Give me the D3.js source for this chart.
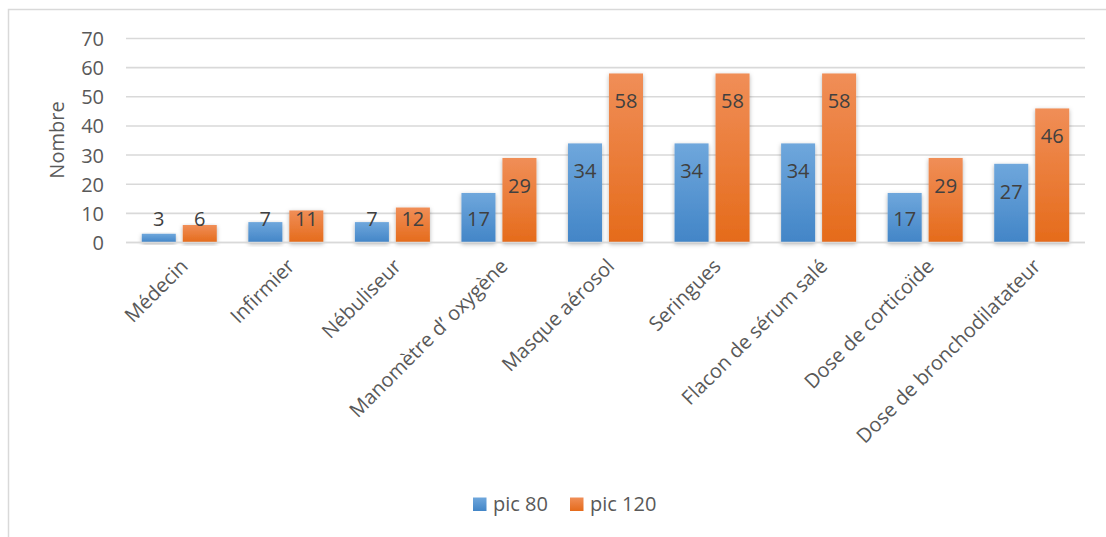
<!DOCTYPE html>
<html><head><meta charset="utf-8">
<script src="https://cdn.jsdelivr.net/npm/d3@7"></script>
<style>
html,body{margin:0;padding:0;background:#fff;}
text{font-family:"Open Sans","Noto Sans",sans-serif;fill:#595959;}
</style></head>
<body><svg id="c" width="1106" height="537"></svg>
<script>
const categories = ["Médecin","Infirmier","Nébuliseur","Manomètre d’ oxygène","Masque aérosol","Seringues","Flacon de sérum salé","Dose de corticoïde","Dose de bronchodilatateur"];
const seriesNames = ["pic 80","pic 120"];
const pic80 = [3,7,7,17,34,34,34,17,27];
const pic120 = [6,11,12,29,58,58,58,29,46];
const yTicks = [0,10,20,30,40,50,60,70];

(function(){
const svg = d3.select("#c");
const pL = 126, pR = 1085, pT = 38.5, pB = 242.5;
const FS = "20px";

const defs = svg.append("defs");
function grad(id, c1, c2){
  const g = defs.append("linearGradient").attr("id", id).attr("x1",0).attr("y1",0).attr("x2",0).attr("y2",1);
  g.append("stop").attr("offset","0%").attr("stop-color",c1);
  g.append("stop").attr("offset","100%").attr("stop-color",c2);
}
grad("gb","#6fa7dc","#4285c7");
grad("go","#f08e57","#e56b1b");
const f = defs.append("filter").attr("id","sh").attr("x","-20%").attr("y","-10%").attr("width","140%").attr("height","130%");
f.append("feDropShadow").attr("dx",0).attr("dy",1.5).attr("stdDeviation",2).attr("flood-color","#000").attr("flood-opacity",0.3);

svg.append("rect").attr("x",8.5).attr("y",9.5).attr("width",1200).attr("height",600)
  .attr("fill","none").attr("stroke","#d9d9d9").attr("stroke-width",1.5);

const x = d3.scaleBand().domain(categories).range([pL,pR]).paddingInner(0).paddingOuter(0);
const y = d3.scaleLinear().domain([0,70]).range([pB,pT]);
const xs = d3.scaleBand().domain(seriesNames).range([0,x.bandwidth()]).paddingInner(0.17).paddingOuter(0.385);

svg.append("g").selectAll("line").data(yTicks).join("line")
  .attr("x1",pL).attr("x2",pR).attr("y1",d=>y(d)).attr("y2",d=>y(d))
  .attr("stroke","#d9d9d9").attr("stroke-width",1.6);

const yAxis = d3.axisLeft(y).tickValues(yTicks).tickSize(0).tickPadding(0);
const ya = svg.append("g").attr("transform",`translate(${pL-22},0)`).call(yAxis);
ya.attr("font-family",null).attr("font-size",null);
ya.select(".domain").remove();
ya.selectAll("text").style("font-size",FS).attr("fill","#595959").attr("dy","0.35em");

svg.append("text").attr("transform",`translate(64,140) rotate(-90)`).attr("text-anchor","middle")
  .style("font-size",FS).text("Nombre");

const data = categories.map((c,i)=>({cat:c, vals:[pic80[i],pic120[i]]}));
const fills = ["url(#gb)","url(#go)"];
const g = svg.append("g");
data.forEach(d=>{
  d.vals.forEach((v,j)=>{
    const bx = x(d.cat)+xs(seriesNames[j]);
    g.append("rect").attr("x",bx).attr("y",y(v)).attr("width",xs.bandwidth()).attr("height",y(0)-y(v))
      .attr("fill",fills[j]).attr("filter","url(#sh)");
  });
});
svg.append("line").attr("x1",pL).attr("x2",pR).attr("y1",y(0)).attr("y2",y(0)).attr("stroke","#d9d9d9").attr("stroke-width",1.6);

data.forEach(d=>{
  d.vals.forEach((v,j)=>{
    const cx = x(d.cat)+xs(seriesNames[j])+xs.bandwidth()/2;
    const cy = Math.min(y(v)+28, 219);
    svg.append("text").attr("x",cx).attr("y",cy).attr("dy","0.35em").attr("text-anchor","middle")
      .style("font-size",FS).style("fill","#404040").text(v);
  });
});

const xa = d3.axisBottom(x).tickSize(0).tickPadding(0);
const xg = svg.append("g").attr("transform",`translate(0,${pB})`).call(xa);
xg.attr("font-family",null).attr("font-size",null);
xg.select(".domain").remove();
xg.selectAll("text").style("font-size",FS).attr("fill","#595959")
  .attr("text-anchor","end").attr("dy",0).attr("y",0)
  .attr("transform","translate(10,25) rotate(-45)");

const lg = svg.append("g");
const legX = [473,570];
seriesNames.forEach((s,i)=>{
  lg.append("rect").attr("x",legX[i]).attr("y",497.5).attr("width",13.5).attr("height",13.5).attr("fill",fills[i]);
  lg.append("text").attr("x",legX[i]+20).attr("y",504).attr("dy","0.35em").style("font-size",FS).text(s);
});
})();
</script></body></html>
